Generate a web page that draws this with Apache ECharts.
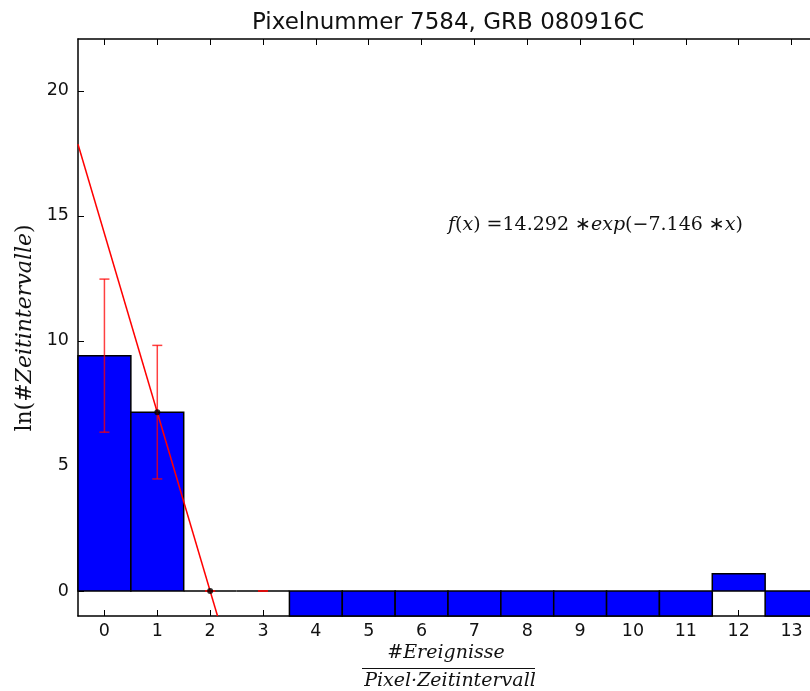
<!DOCTYPE html>
<html>
<head>
<meta charset="utf-8">
<script src="https://cdn.jsdelivr.net/npm/echarts@6/dist/echarts.min.js"></script>
<style>html,body{margin:0;padding:0;background:#fff;}#c{width:810px;height:691px;}</style>
</head>
<body>
<div id="c"></div>
<script>
// ---- data ----
var bins = [0, 1, 2, 3, 4, 5, 6, 7, 8, 9, 10, 11, 12, 13];
// ln(#Zeitintervalle); null = ln(0) = -inf (bar runs off the bottom of the axis)
var lnCounts = [9.41, 7.15, 0, 0, null, null, null, null, null, null, null, null, 0.69, null];
var errX = [0, 1, 2, 3];
var errY = [9.41, 7.15, 0, 0];
var errSize = [3.06, 2.67, 0, 0];
var fitPtsX = [1, 2];
var fitPtsY = [7.15, 0];
var fitLineX = [-0.5, 2.14];
var fitLineY = [17.865, -1.0];
var xTicks = [0, 1, 2, 3, 4, 5, 6, 7, 8, 9, 10, 11, 12, 13];
var yTicks = [0, 5, 10, 15, 20];
var titleText = 'Pixelnummer 7584, GRB 080916C';

var X_MIN = -0.5, X_MAX = 13.5, Y_MIN = -1, Y_MAX = 22.07;

var chart = echarts.init(document.getElementById('c'), null, {renderer: 'canvas'});

function axis(extra) {
  return Object.assign({
    type: 'value',
    splitLine: {show: false},
    axisLine: {show: true, onZero: false, lineStyle: {color: '#000', width: 1.5}}
  }, extra);
}
var tickStyle = {color: '#000', width: 1};
var labelFont = {color: '#111', fontFamily: 'DejaVu Sans', fontSize: 17.5};

var option = {
  animation: false,
  backgroundColor: '#fff',
  grid: {left: 78, top: 39, width: 740, bottom: 75, containLabel: false, outerBoundsMode: 'none'},
  xAxis: [
    axis({position: 'bottom', min: X_MIN, max: X_MAX,
        axisTick: {show: true, inside: true, length: 6, customValues: xTicks, lineStyle: tickStyle},
        axisLabel: Object.assign({margin: 6, customValues: xTicks}, labelFont)}),
    axis({position: 'top', min: X_MIN, max: X_MAX,
        axisTick: {show: true, inside: true, length: 6, customValues: xTicks, lineStyle: tickStyle},
        axisLabel: {show: false}})
  ],
  yAxis: [
    axis({position: 'left', min: Y_MIN, max: Y_MAX,
        axisTick: {show: true, inside: true, length: 6, customValues: yTicks, lineStyle: tickStyle},
        axisLabel: Object.assign({margin: 9, customValues: yTicks}, labelFont)}),
    axis({position: 'right', min: Y_MIN, max: Y_MAX,
        axisTick: {show: true, inside: true, length: 6, customValues: yTicks, lineStyle: tickStyle},
        axisLabel: {show: false}})
  ],
  series: [
    {
      type: 'custom',
      xAxisIndex: 0, yAxisIndex: 0,
      data: bins.map(function (b) { return [b]; }),
      encode: {x: 0},
      z: 2,
      renderItem: function (params, api) {
        var i = params.dataIndex;
        var x = bins[i];
        var v = lnCounts[i];
        var top = (v === null) ? Y_MIN : Math.max(v, Y_MIN);
        var p0 = api.coord([x - 0.5, 0]);
        var p1 = api.coord([x + 0.5, top]);
        var yTop = Math.min(p0[1], p1[1]);
        var h = Math.abs(p0[1] - p1[1]);
        return {
          type: 'rect',
          shape: {x: p0[0], y: yTop, width: p1[0] - p0[0], height: h},
          style: {fill: '#0000ff', stroke: '#000', lineWidth: 1.5}
        };
      }
    },
    {
      type: 'line',
      xAxisIndex: 0, yAxisIndex: 0,
      data: fitLineX.map(function (x, i) { return [x, fitLineY[i]]; }),
      showSymbol: false,
      clip: true,
      lineStyle: {color: '#ff0000', width: 1.5},
      z: 3
    },
    {
      type: 'custom',
      xAxisIndex: 0, yAxisIndex: 0,
      data: errX.map(function (x, i) { return [x, errY[i]]; }),
      z: 4,
      renderItem: function (params, api) {
        var i = params.dataIndex;
        var x = errX[i], y = errY[i], e = errSize[i];
        var lo = api.coord([x, y - e]);
        var hi = api.coord([x, y + e]);
        var c = 'rgba(255,0,0,0.75)';
        var cap = 5;
        return {
          type: 'group',
          children: [
            {type: 'line', shape: {x1: lo[0], y1: lo[1], x2: hi[0], y2: hi[1]}, style: {stroke: c, lineWidth: 1.5}},
            {type: 'line', shape: {x1: lo[0] - cap, y1: lo[1], x2: lo[0] + cap, y2: lo[1]}, style: {stroke: c, lineWidth: 1.5}},
            {type: 'line', shape: {x1: hi[0] - cap, y1: hi[1], x2: hi[0] + cap, y2: hi[1]}, style: {stroke: c, lineWidth: 1.5}}
          ]
        };
      }
    },
    {
      type: 'scatter',
      xAxisIndex: 0, yAxisIndex: 0,
      data: fitPtsX.map(function (x, i) { return [x, fitPtsY[i]]; }),
      symbol: 'circle',
      symbolSize: 6,
      itemStyle: {color: '#000'},
      z: 5
    }
  ],
  graphic: [
    {type: 'text', x: 448, y: 23.5, style: {text: titleText, align: 'center', verticalAlign: 'middle', font: '23px "DejaVu Sans"', fill: '#111'}},
    {type: 'text', x: 448, y: 225, style: {
      text: '{i|f}{r|(}{i|x}{r|) =14.292 }{a|\u2217}{i|exp}{r|(\u22127.146 }{a|\u2217}{i|x}{r|)}',
      verticalAlign: 'middle',
      rich: {
        i: {fontFamily: 'DejaVu Serif', fontStyle: 'italic', fontSize: 19, fill: '#111'},
        r: {fontFamily: 'DejaVu Serif', fontSize: 19, fill: '#111'},
        a: {fontFamily: 'DejaVu Sans', fontSize: 19, fill: '#111'}
      }
    }},
    {type: 'text', x: 25, y: 328, rotation: Math.PI / 2, style: {
      text: '{r|ln(#}{i|Zeitintervalle}{r|)}',
      align: 'center', verticalAlign: 'middle',
      rich: {
        i: {fontFamily: 'DejaVu Serif', fontStyle: 'italic', fontSize: 22, fill: '#111'},
        r: {fontFamily: 'DejaVu Serif', fontSize: 22, fill: '#111'}
      }
    }},
    {type: 'text', x: 446, y: 653, style: {
      text: '#Ereignisse', align: 'center', verticalAlign: 'middle',
      font: 'italic 19px "DejaVu Serif"', fill: '#111'}},
    {type: 'line', shape: {x1: 362, y1: 668.5, x2: 535, y2: 668.5}, style: {stroke: '#111', lineWidth: 1.2}},
    {type: 'text', x: 450, y: 681, style: {
      text: 'Pixel\u00b7Zeitintervall', align: 'center', verticalAlign: 'middle',
      font: 'italic 19px "DejaVu Serif"', fill: '#111'}}
  ]
};
chart.setOption(option);
</script>
</body>
</html>
